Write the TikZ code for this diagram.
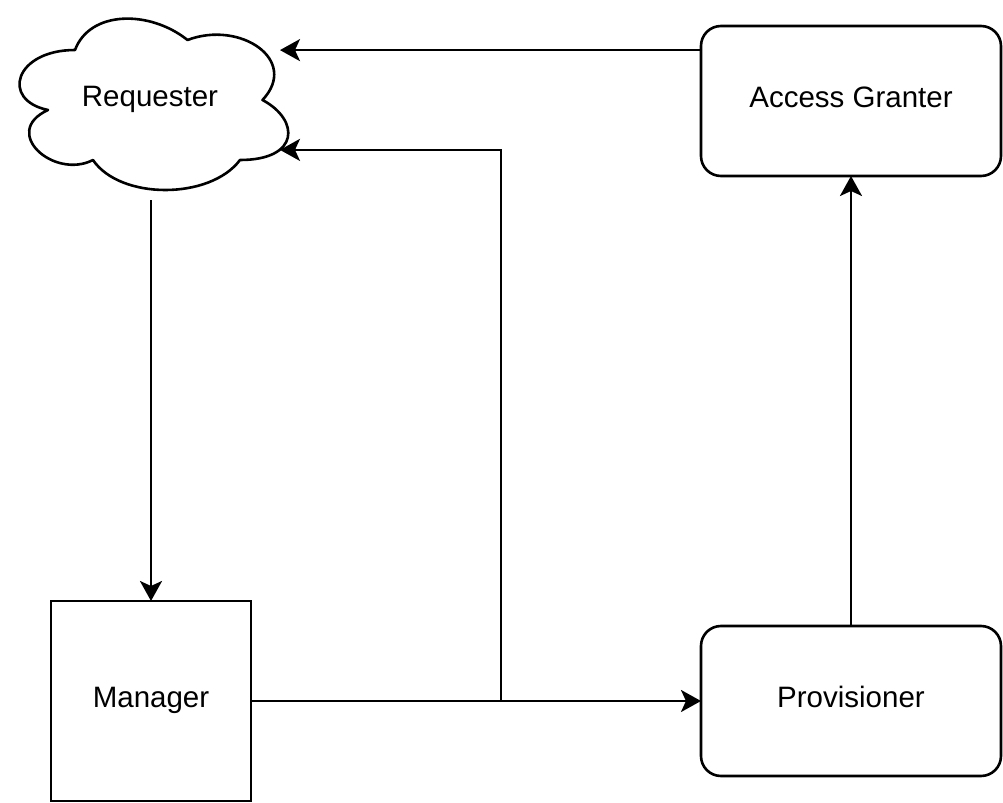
\documentclass[tikz,border=0pt]{standalone}
\usepackage{fontspec}
\setmainfont{Liberation Sans}
\usetikzlibrary{arrows.meta,shapes.geometric}
\begin{document}
\begin{tikzpicture}[x=0.5pt,y=-0.5pt,
  every node/.style={font=\fontsize{14.75}{17}\selectfont, inner sep=0pt, outer sep=0pt,
                     text height=10.6pt, text depth=4pt},
  roundbox/.style={draw, line width=1.3pt, rounded corners=10pt,
                   minimum width=150pt, minimum height=75pt},
  squarebox/.style={draw, line width=1.3pt, minimum width=100pt, minimum height=100pt},
  cloudarea/.style={ellipse, minimum width=150pt, minimum height=100pt},
  cloudline/.style={draw, line width=1.3pt, line join=round},
  link/.style={line width=1.3pt},
  arr/.style={link, -{Stealth[length=10pt,width=11pt,inset=2.5pt]}}
]
\useasboundingbox (0,0) rectangle (1003,803);

% actors
\node[cloudarea] (req) at (150,100) {Requester};
\node[roundbox]  (ag)   at (851,101) {Access Granter};
\node[squarebox] (mgr)  at (151,701) {Manager};
\node[roundbox]  (prov) at (851,701) {Provisioner};

% cloud outline around the requester
\begin{scope}[shift={(req.center)}]
  \path[cloudline] (-75,-50) .. controls (-135,-50) and (-150,0) .. (-102,10)
    .. controls (-150,32) and (-96,80) .. (-57,60)
    .. controls (-30,100) and (60,100) .. (90,60)
    .. controls (150,60) and (150,20) .. (112.5,0)
    .. controls (150,-40) and (90,-80) .. (37.5,-60)
    .. controls (0,-90) and (-60,-90) .. (-75,-50) -- cycle;
\end{scope}

% branch point on the manager-provisioner link
\coordinate (split) at (501,701);

% connectors
\draw[arr] (ag.west |- req.21) -- (req.21);
\draw[arr] (req.south -| mgr.north) -- (mgr.north);
\draw[arr] (mgr.east) -- (prov.west);
\draw[arr] (split) |- (req.-21.6);
\draw[arr] (prov.north) -- (ag.south);
\end{tikzpicture}
\end{document}
